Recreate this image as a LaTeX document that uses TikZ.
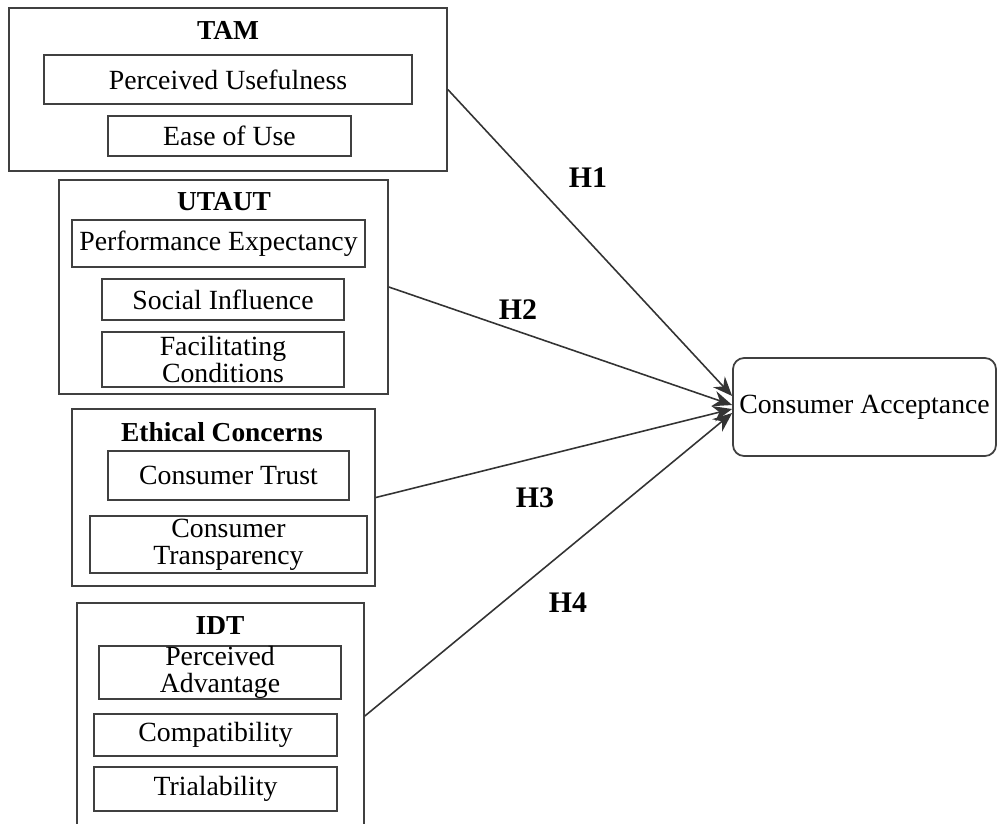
\documentclass[tikz,border=0pt]{standalone}
\usepackage{fontspec}
\setmainfont{Liberation Serif}
\usetikzlibrary{arrows.meta}

\begin{document}
\begin{tikzpicture}[x=0.02cm, y=-0.02cm]
  \tikzset{every node/.style={font=\fontsize{15.8}{15.5}\selectfont},
           groupbox/.style={draw=black!75, line width=1pt, inner sep=0pt},
           itembox/.style={draw=black!75, line width=1pt, inner sep=0pt, align=center},
           grouptitle/.style={font=\fontsize{15.6}{15.5}\selectfont\bfseries},
           hyp/.style={font=\fontsize{17}{17}\selectfont\bfseries},
           link/.style={draw=black!80, line width=0.9pt, -{Stealth[length=11pt, width=9pt]}}}
  \useasboundingbox (0,0) rectangle (997,823);
  \clip (0,0) rectangle (997,823);
  % TAM
  \node[groupbox, minimum width=8.76cm, minimum height=3.26cm] (tam) at (228,89.5) {};
  \node[grouptitle] (tamtitle) at (228,30) {TAM};
  \node[itembox, minimum width=7.36cm, minimum height=0.98cm] (pu) at (228,79.5) {Perceived Usefulness};
  \node[itembox, minimum width=4.86cm, minimum height=0.80cm] (eou) at (229.5,136) {Ease of Use};
  % UTAUT
  \node[groupbox, minimum width=6.58cm, minimum height=4.28cm] (utaut) at (223.5,287) {};
  \node[grouptitle] (utauttitle) at (224,202) {UTAUT};
  \node[itembox, minimum width=5.86cm, minimum height=0.94cm] (pe) at (218.5,243.5) {Performance Expectancy};
  \node[itembox, minimum width=4.84cm, minimum height=0.82cm] (si) at (223,299.5) {Social Influence};
  \node[itembox, minimum width=4.84cm, minimum height=1.10cm] (fc) at (223,359.5) {Facilitating\\Conditions};
  % Ethical Concerns
  \node[groupbox, minimum width=6.06cm, minimum height=3.54cm] (ethic) at (223.5,497.5) {};
  \node[grouptitle] (ethictitle) at (222,432) {Ethical Concerns};
  \node[itembox, minimum width=4.82cm, minimum height=0.98cm] (trust) at (228.5,475.5) {Consumer Trust};
  \node[itembox, minimum width=5.54cm, minimum height=1.14cm] (transp) at (228.5,544.5) {Consumer\\Transparency};
  % IDT
  \node[groupbox, minimum width=5.74cm, minimum height=4.52cm] (idt) at (220.5,716) {};
  \node[grouptitle] (idttitle) at (220,626) {IDT};
  \node[itembox, minimum width=4.84cm, minimum height=0.98cm] (pa) at (220,672.5) {Perceived\\Advantage};
  \node[itembox, minimum width=4.86cm, minimum height=0.84cm] (comp) at (215.5,735) {Compatibility};
  \node[itembox, minimum width=4.86cm, minimum height=0.88cm] (trial) at (215.5,789) {Trialability};
  % outcome
  \node[itembox, rounded corners=0.22cm, minimum width=5.26cm, minimum height=1.96cm] (ca) at (864.5,407) {Consumer Acceptance};
  % hypotheses
  \draw[link] (tam.east) -- ([yshift=0.22cm]ca.west);
  \draw[link] (utaut.east) -- ([yshift=0.04cm]ca.west);
  \draw[link] (ethic.east) -- ([yshift=-0.04cm]ca.west);
  \draw[link] (idt.east) -- ([yshift=-0.12cm]ca.west);
  \node[hyp] (h1) at (588,178) {H1};
  \node[hyp] (h2) at (518,310) {H2};
  \node[hyp] (h3) at (535,498) {H3};
  \node[hyp] (h4) at (568,603) {H4};
\end{tikzpicture}
\end{document}
